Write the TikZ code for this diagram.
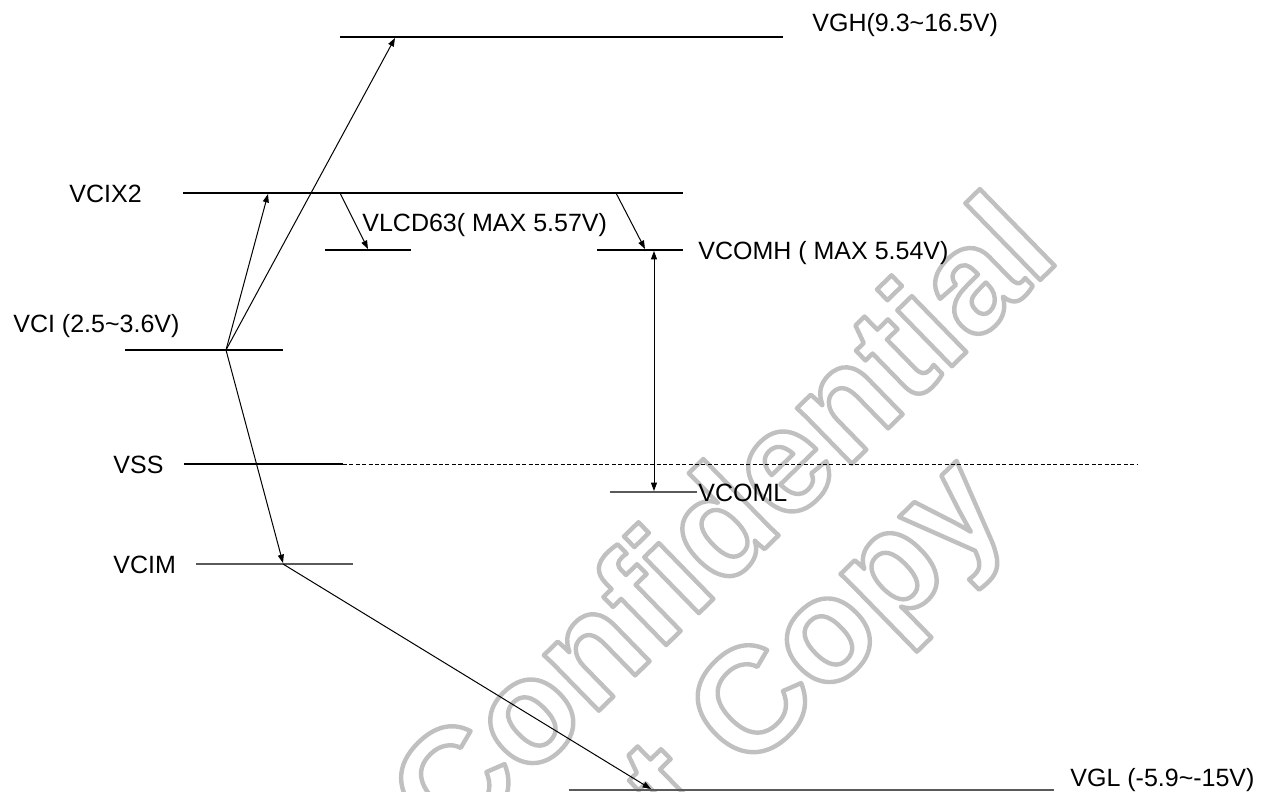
\documentclass[tikz,border=0pt]{standalone}
\usepackage{fontspec}
\setmainfont{Liberation Sans}
\usetikzlibrary{arrows.meta}
\definecolor{wm}{RGB}{192,192,192}
\definecolor{lvl}{RGB}{90,90,90}
\begin{document}
\begin{tikzpicture}[x=0.5pt,y=-0.5pt,
  lbl/.style={anchor=base west,inner sep=0pt,font=\fontsize{12.5pt}{15pt}\selectfont},
  lvlline/.style={line width=0.55pt,black},
  glvl/.style={line width=1.1pt,lvl},
  arr/.style={line width=0.5pt,-{Triangle[length=4.2pt,width=3pt]}},
  dbl/.style={line width=0.5pt,{Triangle[length=4.2pt,width=3pt]}-{Triangle[length=4.2pt,width=3pt]}},
  wmark/.style={anchor=base west,inner sep=0pt,text=wm,rotate=44.3,font=\fontsize{74pt}{80pt}\selectfont\bfseries}]
\useasboundingbox (0,0) rectangle (1265,792);
% watermark
\begin{scope}
\clip (0,0) rectangle (1265,792);
\node[wmark] (wm1) at (450,856) {\special{pdf:literal 1 Tr 2.2 w 1 j}Confidential};
\node[wmark] (wm2) at (682,838) {\special{pdf:literal 1 Tr 2.2 w 1 j}t Copy};
\end{scope}
% level end points
\coordinate (vghL) at (340,37);   \coordinate (vghR) at (783,37);
\coordinate (x2L) at (183,193);   \coordinate (x2R) at (683,193);
\coordinate (lcdL) at (325,250);  \coordinate (lcdR) at (411,250);
\coordinate (cmhL) at (597,250);  \coordinate (cmhR) at (683,250);
\coordinate (vciL) at (125,350);  \coordinate (vciR) at (283,350);
\coordinate (vssL) at (184,464);  \coordinate (vssM) at (343,464); \coordinate (vssR) at (1137,464);
\coordinate (cmlL) at (610,492);  \coordinate (cmlR) at (697,492);
\coordinate (vcimL) at (196,564); \coordinate (vcimR) at (353,564);
\coordinate (vglL) at (569,790);  \coordinate (vglR) at (1054,790);
% arrow points
\coordinate (vciP) at (226,350);
\coordinate (vghP) at (395,38);
\coordinate (x2P) at (268,194);
\coordinate (vcimP) at (283,563);
\coordinate (vcimS) at (283,564);
\coordinate (vglP) at (651,789);
\coordinate (x2A) at (340,193);
\coordinate (lcdP) at (368,249);
\coordinate (x2B) at (616,193);
\coordinate (cmhP) at (645,249);
\coordinate (dT) at (654,251);
\coordinate (dB) at (654,491);
% levels
\draw[lvlline] (vghL) -- (vghR);
\draw[lvlline] (x2L) -- (x2R);
\draw[lvlline] (lcdL) -- (lcdR);
\draw[lvlline] (cmhL) -- (cmhR);
\draw[lvlline] (vciL) -- (vciR);
\draw[lvlline] (vssL) -- (vssM);
\draw[line width=0.5pt,dash pattern=on 2pt off 1.2pt] (vssM) -- (vssR);
\draw[glvl] (cmlL) -- (cmlR);
\draw[glvl] (vcimL) -- (vcimR);
\draw[glvl] (vglL) -- (vglR);
% arrows
\draw[arr] (vciP) -- (vghP);
\draw[arr] (vciP) -- (x2P);
\draw[arr] (vciP) -- (vcimP);
\draw[arr] (vcimS) -- (vglP);
\draw[arr] (x2A) -- (lcdP);
\draw[arr] (x2B) -- (cmhP);
\draw[dbl] (dT) -- (dB);
% labels
\node[lbl] (tVGH) at (812,32) {VGH(9.3\textasciitilde16.5V)};
\node[lbl] (tX2) at (69,203) {VCIX2};
\node[lbl] (tLCD) at (362,232) {VLCD63( MAX 5.57V)};
\node[lbl] (tCMH) at (698,259) {VCOMH ( MAX 5.54V)};
\node[lbl] (tVCI) at (13,332) {VCI (2.5\textasciitilde3.6V)};
\node[lbl] (tVSS) at (113,473) {VSS};
\node[lbl] (tCML) at (698,501) {VCOML};
\node[lbl] (tVCIM) at (113,573) {VCIM};
\node[lbl] (tVGL) at (1070,786) {VGL (-5.9\textasciitilde-15V)};
\end{tikzpicture}
\end{document}
